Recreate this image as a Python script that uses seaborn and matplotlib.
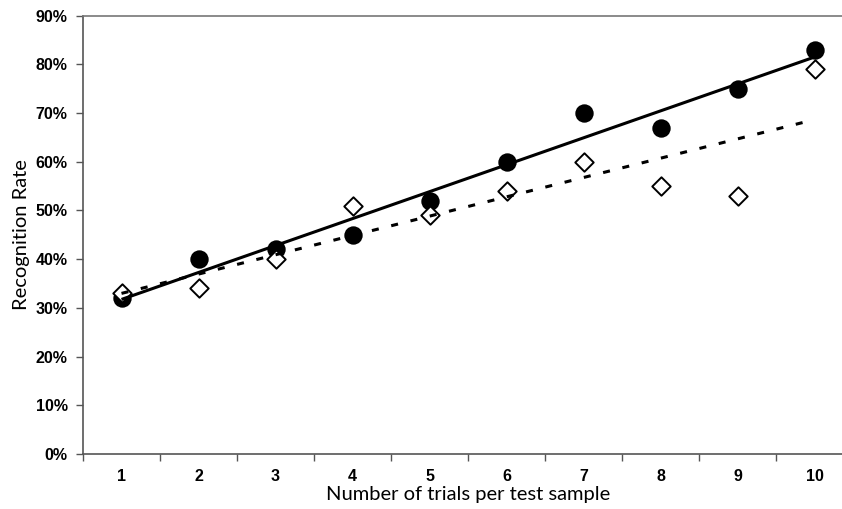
import matplotlib
matplotlib.use("Agg")
import matplotlib.pyplot as plt
import seaborn as sns
import numpy as np
import pandas as pd
from matplotlib.ticker import PercentFormatter, FixedLocator

trials = [1, 2, 3, 4, 5, 6, 7, 8, 9, 10]
series_a = [0.32, 0.40, 0.42, 0.45, 0.52, 0.60, 0.70, 0.67, 0.75, 0.83]   # filled circles
series_b = [0.33, 0.34, 0.40, 0.51, 0.49, 0.54, 0.60, 0.55, 0.53, 0.79]   # open diamonds
x_label = "Number of trials per test sample"
y_label = "Recognition Rate"

sns.set_theme(style="white")
plt.rcParams['font.family'] = ['Liberation Sans', 'DejaVu Sans']

df = pd.DataFrame({"trials": trials, "a": series_a, "b": series_b})

W, H = 842, 509
fig = plt.figure(figsize=(W / 100, H / 100), dpi=100)
ax = fig.add_axes([83 / W, (H - 454) / H, (853 - 83) / W, (454 - 15.5) / H])

sns.scatterplot(data=df, x="trials", y="a", ax=ax, marker="o", s=175,
                color="black", edgecolor="black", linewidth=0, zorder=3)
sns.scatterplot(data=df, x="trials", y="b", ax=ax, marker="D", s=88,
                facecolor="white", edgecolor="black", linewidth=1.4, zorder=4)
sns.regplot(data=df, x="trials", y="a", ax=ax, scatter=False, ci=None,
            line_kws=dict(color="black", lw=2.2, zorder=5, solid_capstyle="butt"))
sns.regplot(data=df, x="trials", y="b", ax=ax, scatter=False, ci=None,
            line_kws=dict(color="black", lw=2.2, zorder=5, dashes=(2.3, 4.2),
                          dash_capstyle="butt"))

ax.set_xlim(0.5, 10.5)
ax.set_ylim(0, 0.90)
ax.yaxis.set_major_locator(FixedLocator(np.arange(0, 0.91, 0.1)))
ax.yaxis.set_major_formatter(PercentFormatter(1.0, decimals=0))
ax.set_xticks(trials)
ax.set_xticklabels([str(t) for t in trials])
ax.xaxis.set_minor_locator(FixedLocator(np.arange(0.5, 10.6, 1.0)))

spine_c = "#555555"
for side in ["left", "bottom", "top", "right"]:
    ax.spines[side].set_visible(True)
    ax.spines[side].set_color(spine_c)
    ax.spines[side].set_linewidth(1.2)
ax.spines["top"].set_color("#777777")

ax.tick_params(axis="x", which="major", length=0, pad=11, labelsize=11.5, labelcolor="black")
ax.tick_params(axis="x", which="minor", length=5, width=1, color=spine_c, direction="out", bottom=True)
ax.tick_params(axis="y", which="major", length=5, width=1, color=spine_c, direction="out",
               left=True, pad=6, labelsize=11.5, labelcolor="black")
for lab in ax.get_xticklabels() + ax.get_yticklabels():
    lab.set_fontweight("bold")

ax.set_xlabel(x_label, fontsize=14.5, family=["Lato", "DejaVu Sans"], color="black", labelpad=1)
ax.set_ylabel(y_label, fontsize=14.5, family=["Lato", "DejaVu Sans"], color="black", labelpad=4)
ax.grid(False)

fig.savefig("out.png", dpi=100)
